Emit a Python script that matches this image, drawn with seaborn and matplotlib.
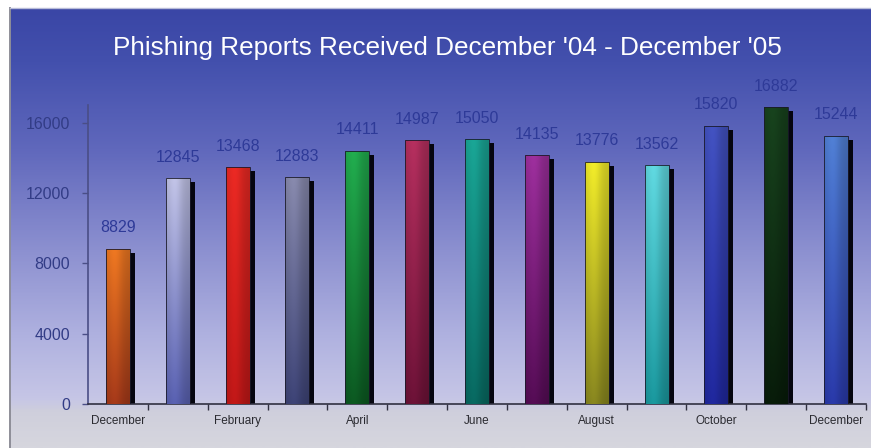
import numpy as np
import pandas as pd
import matplotlib
matplotlib.use("Agg")
import matplotlib.pyplot as plt
from matplotlib.colors import LinearSegmentedColormap, to_rgb
from matplotlib.patches import Rectangle
import seaborn as sns

# ---- data -------------------------------------------------------------
periods = ["Dec 2004", "Jan 2005", "Feb 2005", "Mar 2005", "Apr 2005", "May 2005",
           "Jun 2005", "Jul 2005", "Aug 2005", "Sep 2005", "Oct 2005", "Nov 2005",
           "Dec 2005"]
months = ["December", "January", "February", "March", "April", "May", "June",
          "July", "August", "September", "October", "November", "December"]
reports = [8829, 12845, 13468, 12883, 14411, 14987, 15050, 14135, 13776, 13562,
           15820, 16882, 15244]
top_colors = ["#f27a22", "#c4c6ea", "#ee2a24", "#8a8cb0", "#22b050", "#b83060",
              "#1aa898", "#a030a0", "#f6f02a", "#62dce4", "#4454c4", "#18441e",
              "#5282d8"]
bottom_colors = ["#a83a1a", "#5a62b4", "#c41818", "#3e4478", "#0c5a22", "#6e1238",
                 "#086a62", "#560c56", "#8a8820", "#1a9aa0", "#2028a0", "#081c0a",
                 "#2a3aac"]
yticks = [0, 4000, 8000, 12000, 16000]
title = "Phishing Reports Received December '04 - December '05"

plt.rcParams["font.family"] = ["Liberation Sans", "DejaVu Sans"]

W, H = 871, 448
fig = plt.figure(figsize=(W / 100, H / 100), dpi=100, facecolor="white")

# ---- panel background: blue fading to pale lavender ----------------------
bg = fig.add_axes([0, 0, 1, 1], zorder=0)
bg.set_axis_off()
bg.set_xlim(0, W)
bg.set_ylim(H, 0)
stops = [(0.00, "#3a46a6"), (0.12, "#4350ad"), (0.32, "#6068bc"),
         (0.55, "#8c90d0"), (0.75, "#b0b2e0"), (0.89, "#c6c6e6"),
         (0.92, "#cfcfdc"), (1.00, "#d6d6de")]
panel_cmap = LinearSegmentedColormap.from_list("panel", stops)
grad = np.linspace(0, 1, 400).reshape(-1, 1)
bg.imshow(grad, cmap=panel_cmap, extent=(10, W, H, 8), aspect="auto",
          interpolation="bilinear")
bg.plot([10, 10], [8, H], color="#8e8e98", lw=1.4)
bg.plot([10, W], [8, 8], color="#b8bcd8", lw=1.0)

# ---- bars ----------------------------------------------------------------
ax = fig.add_axes([88 / W, 44 / H, 778 / W, 299 / H], zorder=1)
ax.patch.set_alpha(0)

df = pd.DataFrame({"period": periods, "reports": reports})
sns.barplot(data=df, x="period", y="reports", hue="period", palette=top_colors,
            width=0.4, legend=False, ax=ax, zorder=3, edgecolor="#1a1a2a",
            linewidth=0.6, order=periods, hue_order=periods)

ymax = 17000
px_x = 778 / 13          # pixels per category
px_y = 299 / ymax        # pixels per report
dx = 5 / px_x
dy = 4 / px_y

# horizontal shading profile across each bar face
prof_x = np.linspace(0, 1, 40)
shade = 0.88 + 0.14 * np.exp(-((prof_x - 0.38) / 0.3) ** 2)
shade -= 0.08 * prof_x
prof_y = np.linspace(0, 1, 200)[:, None]

for patch, v, ct, cb in zip(ax.patches, reports, top_colors, bottom_colors):
    x0, w, h = patch.get_x(), patch.get_width(), patch.get_height()
    # dark side / drop shadow
    ax.add_patch(Rectangle((x0 + dx, 0), w, h - dy, facecolor="#050510",
                           edgecolor="none", zorder=2))
    # vertical gradient face clipped to the bar
    t = np.array(to_rgb(ct))
    b = np.array(to_rgb(cb))
    col = t[None, :] * (1 - prof_y) + b[None, :] * prof_y
    img = np.clip(col[:, None, :] * shade[None, :, None], 0, 1)
    im = ax.imshow(img, extent=(x0, x0 + w, 0, h), aspect="auto",
                   origin="upper", zorder=3.5, interpolation="bilinear")
    im.set_clip_path(patch)
    patch.set_facecolor("none")
    patch.set_zorder(4)
    ax.text(x0 + w / 2, h + 21 / px_y, f"{v}", ha="center", va="center",
            fontsize=11.5, color="#2e3a98", zorder=5)

ax.set_xlim(-0.5, len(periods) - 0.5)
ax.set_ylim(0, ymax)

# ---- axes styling --------------------------------------------------------
ax.set_xlabel("")
ax.set_ylabel("")
ax.set_yticks(yticks)
ax.set_yticklabels([str(t) for t in yticks])
ax.set_xticks(range(len(periods)))
ax.set_xticklabels([m if i % 2 == 0 else "" for i, m in enumerate(months)])
ax.set_xticks(np.arange(0.5, len(periods), 1), minor=True)
ax.tick_params(axis="y", length=4, width=1, color="#4a4e86", labelsize=11.5,
               labelcolor="#323c86", pad=9)
ax.tick_params(axis="x", which="major", length=0, pad=8, labelsize=8.5,
               labelcolor="#2a2a30")
ax.tick_params(axis="x", which="minor", length=4, width=1, color="#303040")
for s in ("top", "right"):
    ax.spines[s].set_visible(False)
ax.spines["left"].set_color("#4a4e86")
ax.spines["left"].set_linewidth(1.2)
ax.spines["bottom"].set_color("#303040")
ax.spines["bottom"].set_linewidth(1.2)

fig.text(447.5 / W, 1 - 55 / H, title, ha="center", va="baseline",
         color="white", fontsize=18.8)

fig.savefig("out.png", dpi=100, facecolor="white")
